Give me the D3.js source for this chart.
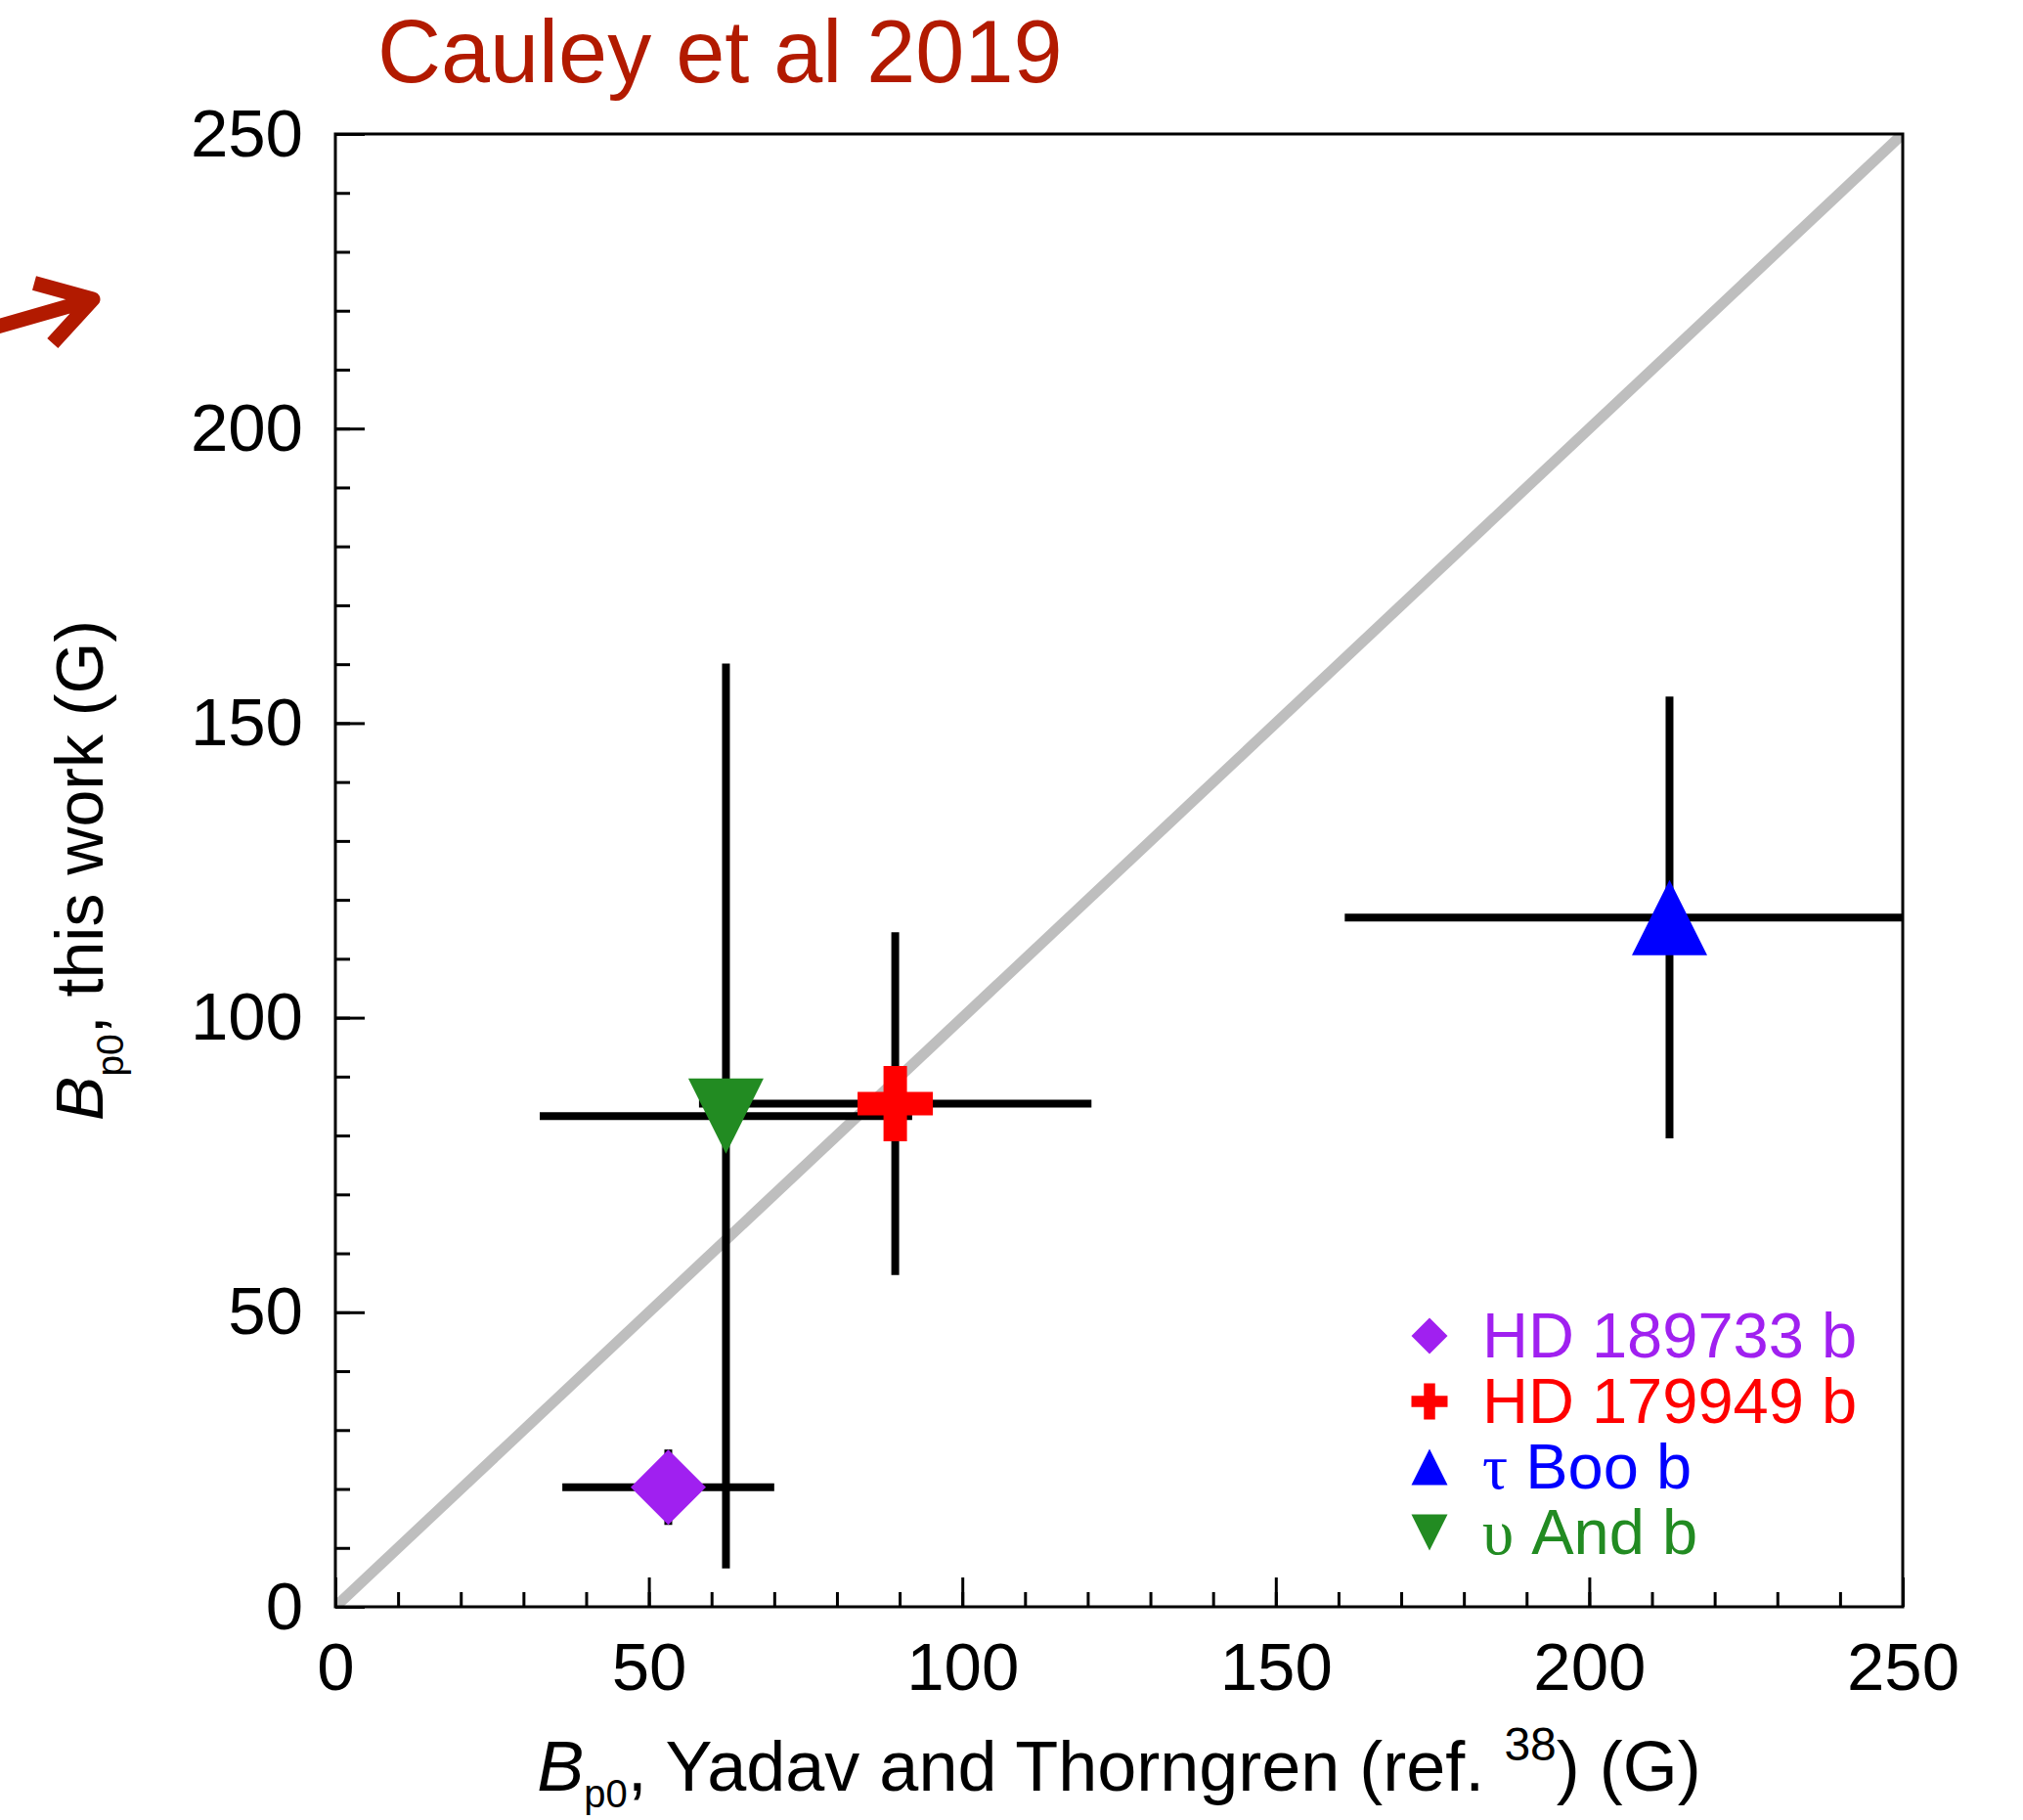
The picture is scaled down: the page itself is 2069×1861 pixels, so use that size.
<!DOCTYPE html>
<html>
<head>
<meta charset="utf-8">
<script src="https://cdn.jsdelivr.net/npm/d3@7"></script>
<style>
  body { margin: 0; background: #fff; }
  text { font-family: "Liberation Sans", Arial, Helvetica, sans-serif; }
</style>
</head>
<body>
<svg id="chart"></svg>
<script>
// planets, Yadav & Thorngren values (x) vs this work (y)
var planets = ["HD 189733 b", "HD 179949 b", "τ Boo b", "υ And b"];
var bYadav = [53.1, 89.3, 212.8, 62.3];
var bYadavErr = [16.9, 31.3, 51.8, 29.7];
var bThisWork = [20.3, 85.4, 117.0, 83.3];
var bThisWorkErr = [6.4, 29.1, 37.5, 76.8];
var planetColors = ["#a020f0", "#ff0000", "#0000ff", "#228b22"];
var planetSymbols = ["diamond", "plus", "triangleUp", "triangleDown"];
var majorTicks = [0, 50, 100, 150, 200, 250];
var minorTicks = d3.range(0, 251, 10);

var width = 2069;
var height = 1861;
var margin = { left: 343, right: 123, top: 137, bottom: 218 };
var titleColor = "#b21a00";

var svg = d3.select("#chart").attr("width", width).attr("height", height);

var x = d3.scaleLinear().domain([0, 250]).range([margin.left, width - margin.right]);
var y = d3.scaleLinear().domain([0, 250]).range([height - margin.bottom, margin.top]);

function markerPath(type, s, t) {
  if (type == "diamond") return `M0,${-s}L${s},0L0,${s}L${-s},0Z`;
  if (type == "triangleUp") return `M0,${-s}L${s},${s}L${-s},${s}Z`;
  if (type == "triangleDown") return `M0,${s}L${s},${-s}L${-s},${-s}Z`;
  var h = t / 2;
  return `M${-h},${-s}H${h}V${-h}H${s}V${h}H${h}V${s}H${-h}V${h}H${-s}V${-h}H${-h}Z`;
}

svg.append("defs").append("clipPath").attr("id", "plotClip")
  .append("rect")
  .attr("x", x(0)).attr("y", y(250))
  .attr("width", x(250) - x(0)).attr("height", y(0) - y(250));

// title + arrow
svg.append("text")
  .attr("x", 386).attr("y", 84)
  .style("font-size", "90px")
  .attr("fill", titleColor)
  .text("Cauley et al 2019");

svg.append("path")
  .attr("d", "M35,289.5L95,306L53.8,351M-20,339L95,306")
  .attr("fill", "none")
  .attr("stroke", titleColor)
  .attr("stroke-width", 15)
  .attr("stroke-linejoin", "round");

var plot = svg.append("g").attr("clip-path", "url(#plotClip)");

// one-to-one line
plot.append("line")
  .attr("x1", x(0)).attr("y1", y(0))
  .attr("x2", x(250)).attr("y2", y(250))
  .attr("stroke", "#bebebe")
  .attr("stroke-width", 11);

// error bars first, then the markers on top
planets.forEach(function(p, i) {
  plot.append("line")
    .attr("x1", x(bYadav[i] - bYadavErr[i])).attr("x2", x(bYadav[i] + bYadavErr[i]))
    .attr("y1", y(bThisWork[i])).attr("y2", y(bThisWork[i]))
    .attr("stroke", "#000").attr("stroke-width", 8);
  plot.append("line")
    .attr("x1", x(bYadav[i])).attr("x2", x(bYadav[i]))
    .attr("y1", y(bThisWork[i] - bThisWorkErr[i])).attr("y2", y(bThisWork[i] + bThisWorkErr[i]))
    .attr("stroke", "#000").attr("stroke-width", 8);
});

plot.selectAll("path.marker")
  .data(planets)
  .enter()
  .append("path")
  .attr("class", "marker")
  .attr("transform", (d, i) => `translate(${x(bYadav[i])},${y(bThisWork[i])})`)
  .attr("d", (d, i) => markerPath(planetSymbols[i], 38.5, 24))
  .attr("fill", (d, i) => planetColors[i]);

// axes: ticks point inward, minor every 10, major every 50
var axisStyle = function(g) {
  g.select(".domain").remove();
  g.selectAll("line").attr("stroke", "#000").attr("stroke-width", 3);
  g.selectAll("text").style("font-size", "69px").attr("fill", "#000");
};

svg.append("g")
  .attr("transform", `translate(0,${y(0)})`)
  .call(d3.axisBottom(x).tickValues(minorTicks).tickSize(-15).tickFormat(""))
  .call(axisStyle);
svg.append("g")
  .attr("transform", `translate(0,${y(0)})`)
  .call(d3.axisBottom(x).tickValues(majorTicks).tickSize(-30).tickPadding(36))
  .call(axisStyle);

svg.append("g")
  .attr("transform", `translate(${x(0)},0)`)
  .call(d3.axisLeft(y).tickValues(minorTicks).tickSize(-15).tickFormat(""))
  .call(axisStyle);
svg.append("g")
  .attr("transform", `translate(${x(0)},0)`)
  .call(d3.axisLeft(y).tickValues(majorTicks).tickSize(-30).tickPadding(33))
  .call(axisStyle);

svg.append("rect")
  .attr("x", x(0)).attr("y", y(250))
  .attr("width", x(250) - x(0)).attr("height", y(0) - y(250))
  .attr("fill", "none")
  .attr("stroke", "#000")
  .attr("stroke-width", 3);

// axis titles
var xTitle = svg.append("text")
  .attr("x", (x(0) + x(250)) / 2).attr("y", 1831)
  .attr("text-anchor", "middle")
  .style("font-size", "72px");
xTitle.append("tspan").style("font-style", "italic").text("B");
xTitle.append("tspan").attr("dy", 17).style("font-size", "40px").text("p0");
xTitle.append("tspan").attr("dy", -17).text(", Yadav and Thorngren (ref. ");
xTitle.append("tspan").attr("dy", -31).style("font-size", "48px").text("38");
xTitle.append("tspan").attr("dy", 31).text(") (G)");

var yTitle = svg.append("text")
  .attr("transform", `translate(105,${(y(0) + y(250)) / 2}) rotate(-90)`)
  .attr("text-anchor", "middle")
  .style("font-size", "68px");
yTitle.append("tspan").style("font-style", "italic").text("B");
yTitle.append("tspan").attr("dy", 21).style("font-size", "39px").text("p0");
yTitle.append("tspan").attr("dy", -21).text(", this work (G)");

// legend
var legend = svg.append("g");
planets.forEach(function(p, i) {
  var cy = 1366 + i * 67;
  legend.append("path")
    .attr("transform", `translate(1462,${cy})`)
    .attr("d", markerPath(planetSymbols[i], 18.5, 11.5))
    .attr("fill", planetColors[i]);
  var t = legend.append("text")
    .attr("x", 1516).attr("y", cy + 22)
    .style("font-size", "65px")
    .attr("fill", planetColors[i]);
  var first = p.charAt(0);
  if (/[\u0370-\u03ff]/.test(first)) {
    t.append("tspan").style("font-family", "'Liberation Serif', 'DejaVu Serif', serif").text(first);
    t.append("tspan").text(p.slice(1));
  } else {
    t.text(p);
  }
});
</script>
</body>
</html>
